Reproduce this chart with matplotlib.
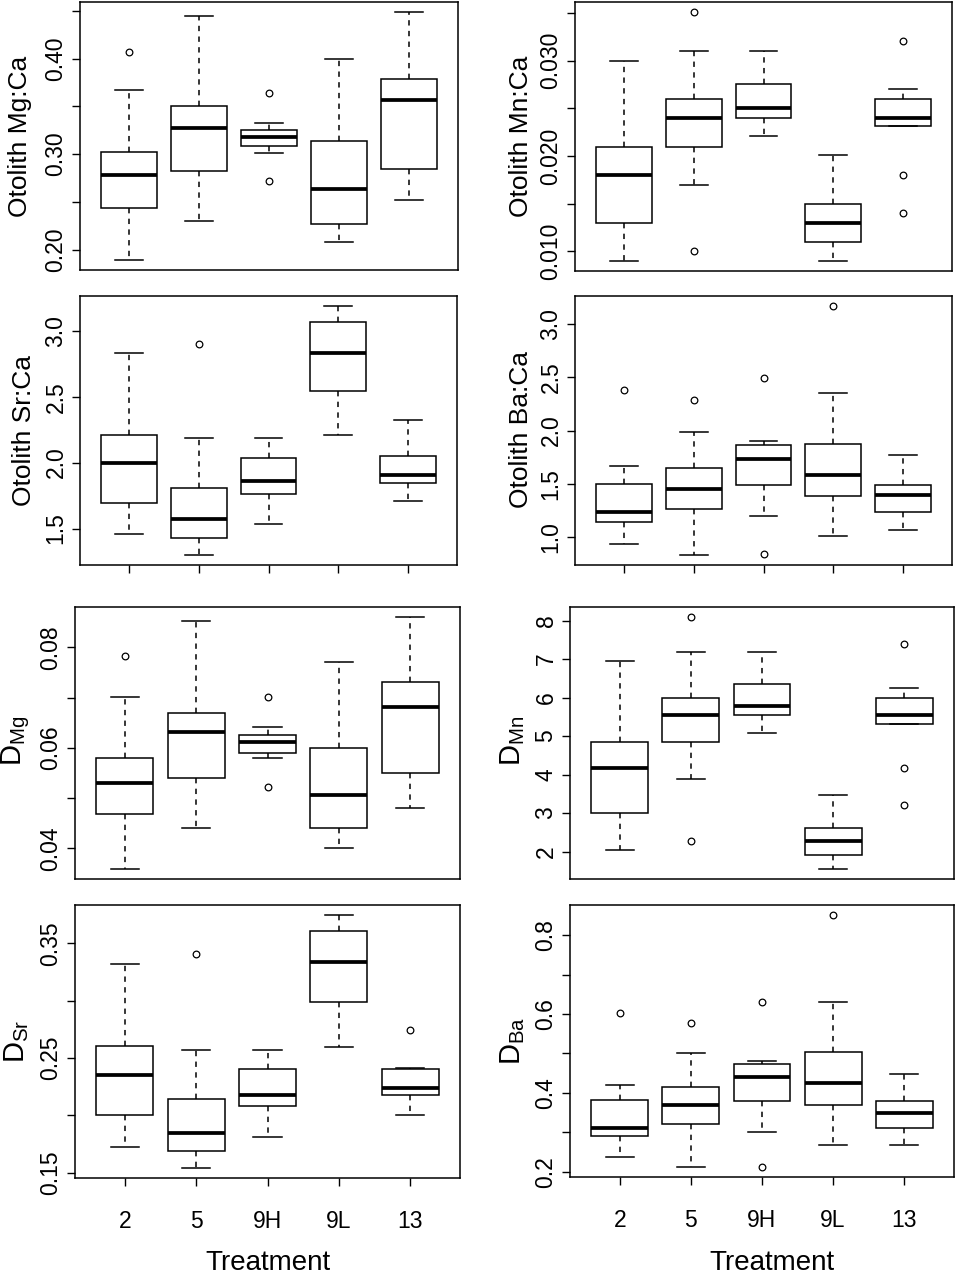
import matplotlib
matplotlib.use('Agg')
import matplotlib.pyplot as plt

plt.rcParams['font.family'] = ['Liberation Sans', 'DejaVu Sans']
plt.rcParams['mathtext.fontset'] = 'custom'
plt.rcParams['mathtext.rm'] = 'Liberation Sans'
plt.rcParams['mathtext.it'] = 'Liberation Sans:italic'
plt.rcParams['mathtext.bf'] = 'Liberation Sans:bold'

treatments = ['2', '5', '9H', '9L', '13']

# ---------------- data ----------------
# Otolith Mg:Ca
mgca_whislo = [0.189, 0.230, 0.301, 0.208, 0.252]
mgca_q1     = [0.244, 0.282, 0.309, 0.227, 0.284]
mgca_med    = [0.278, 0.327, 0.318, 0.263, 0.357]
mgca_q3     = [0.302, 0.350, 0.325, 0.314, 0.379]
mgca_whishi = [0.367, 0.445, 0.333, 0.400, 0.449]
mgca_fliers = [[0.407], [], [0.364, 0.272], [], []]

# Otolith Mn:Ca
mnca_whislo = [0.0090, 0.0170, 0.0221, 0.0090, 0.0231]
mnca_q1     = [0.0130, 0.0210, 0.0240, 0.0110, 0.0231]
mnca_med    = [0.0180, 0.0240, 0.0250, 0.0130, 0.0240]
mnca_q3     = [0.0210, 0.0260, 0.0275, 0.0150, 0.0260]
mnca_whishi = [0.0300, 0.0310, 0.0310, 0.0201, 0.0270]
mnca_fliers = [[], [0.0351, 0.0100], [], [], [0.0321, 0.0180, 0.0140]]

# Otolith Sr:Ca
srca_whislo = [1.462, 1.299, 1.533, 2.209, 1.706]
srca_q1     = [1.696, 1.426, 1.759, 2.542, 1.848]
srca_med    = [2.000, 1.571, 1.858, 2.830, 1.904]
srca_q3     = [2.209, 1.810, 2.034, 3.066, 2.047]
srca_whishi = [2.830, 2.189, 2.189, 3.188, 2.324]
srca_fliers = [[], [2.901], [], [], []]

# Otolith Ba:Ca
baca_whislo = [0.931, 0.830, 1.201, 1.009, 1.066]
baca_q1     = [1.144, 1.267, 1.490, 1.380, 1.235]
baca_med    = [1.232, 1.455, 1.735, 1.581, 1.392]
baca_q3     = [1.499, 1.644, 1.867, 1.876, 1.490]
baca_whishi = [1.666, 1.989, 1.898, 2.350, 1.766]
baca_fliers = [[2.381], [2.290], [2.491, 0.843], [3.170], []]

# D Mg
dmg_whislo = [0.0359, 0.0440, 0.0580, 0.0400, 0.0481]
dmg_q1     = [0.0469, 0.0540, 0.0590, 0.0440, 0.0550]
dmg_med    = [0.0530, 0.0632, 0.0612, 0.0506, 0.0681]
dmg_q3     = [0.0580, 0.0670, 0.0625, 0.0600, 0.0730]
dmg_whishi = [0.0701, 0.0852, 0.0641, 0.0771, 0.0860]
dmg_fliers = [[0.0782], [], [0.0701, 0.0522], [], []]

# D Mn
dmn_whislo = [2.04, 3.89, 5.07, 1.55, 5.31]
dmn_q1     = [2.99, 4.84, 5.54, 1.91, 5.31]
dmn_med    = [4.16, 5.54, 5.78, 2.27, 5.54]
dmn_q3     = [4.84, 6.00, 6.35, 2.60, 6.00]
dmn_whishi = [6.95, 7.18, 7.18, 3.48, 6.24]
dmn_fliers = [[], [8.09, 2.28], [], [], [7.38, 4.16, 3.22]]

# D Sr
dsr_whislo = [0.1724, 0.1541, 0.1811, 0.2598, 0.2001]
dsr_q1     = [0.2001, 0.1686, 0.2079, 0.2993, 0.2181]
dsr_med    = [0.2353, 0.1843, 0.2181, 0.3334, 0.2239]
dsr_q3     = [0.2606, 0.2140, 0.2405, 0.3605, 0.2405]
dsr_whishi = [0.3317, 0.2574, 0.2574, 0.3747, 0.2414]
dsr_fliers = [[], [0.3407], [], [], [0.2743]]

# D Ba
dba_whislo = [0.238, 0.213, 0.300, 0.268, 0.268]
dba_q1     = [0.290, 0.321, 0.379, 0.370, 0.312]
dba_med    = [0.312, 0.370, 0.441, 0.426, 0.349]
dba_q3     = [0.381, 0.414, 0.473, 0.504, 0.378]
dba_whishi = [0.421, 0.501, 0.480, 0.630, 0.447]
dba_fliers = [[0.602], [0.578], [0.630, 0.212], [0.851], []]

# ---------------- layout ----------------
W, H = 963, 1276
fig = plt.figure(figsize=(W / 100, H / 100), dpi=100)


def make_stats(lo, q1, med, q3, hi, fl):
    return [dict(whislo=lo[i], q1=q1[i], med=med[i], q3=q3[i], whishi=hi[i],
                 fliers=fl[i], label=treatments[i]) for i in range(len(treatments))]


def panel(box_px, stats, ticks, ticklabels, ylab, ylab_xy, xticks_mode):
    x0, y0, x1, y1 = box_px
    ax = fig.add_axes([x0 / W, 1 - y1 / H, (x1 - x0) / W, (y1 - y0) / H])
    ax.bxp(stats, positions=range(1, 6), widths=0.8, capwidths=0.4,
           patch_artist=True,
           boxprops=dict(facecolor='white', edgecolor='black', linewidth=1.1),
           medianprops=dict(color='black', linewidth=2.7, solid_capstyle='butt'),
           whiskerprops=dict(color='black', linewidth=1.1, linestyle=(0, (3.5, 3.5))),
           capprops=dict(color='black', linewidth=1.1),
           flierprops=dict(marker='o', markerfacecolor='none',
                           markeredgecolor='black', markersize=4.8,
                           markeredgewidth=0.9))
    vals = []
    for s in stats:
        vals += [s['whislo'], s['whishi']] + list(s['fliers'])
    lo, hi = min(vals), max(vals)
    r = hi - lo
    ax.set_ylim(lo - 0.04 * r, hi + 0.04 * r)
    ax.set_xlim(0.3, 5.7)
    ax.set_yticks(ticks, ticklabels)
    ax.tick_params(axis='y', labelrotation=90, labelsize=16.5, length=6,
                   width=1.0, pad=3)
    for t in ax.get_yticklabels():
        t.set_va('center')
    if xticks_mode == 'none':
        ax.tick_params(axis='x', bottom=False, labelbottom=False)
    elif xticks_mode == 'ticks':
        ax.set_xticks(range(1, 6), treatments)
        ax.tick_params(axis='x', length=6, width=1.0, labelbottom=False)
    else:
        ax.set_xticks(range(1, 6), treatments)
        ax.tick_params(axis='x', length=6, width=1.0, labelsize=16.5, pad=17)
    for sp in ax.spines.values():
        sp.set_linewidth(1.1)
        sp.set_color('black')
    fs = 19 if ylab.startswith('Otolith') else 21
    fig.text(ylab_xy[0] / W, 1 - ylab_xy[1] / H, ylab, rotation=90,
             ha='center', va='center', fontsize=fs)
    return ax


panel((80, 2, 458, 270),
      make_stats(mgca_whislo, mgca_q1, mgca_med, mgca_q3, mgca_whishi, mgca_fliers),
      [0.20, 0.25, 0.30, 0.35, 0.40, 0.45],
      ['0.20', '', '0.30', '', '0.40', ''],
      'Otolith Mg:Ca', (20, 136), 'none')

panel((575, 2, 952, 271),
      make_stats(mnca_whislo, mnca_q1, mnca_med, mnca_q3, mnca_whishi, mnca_fliers),
      [0.010, 0.015, 0.020, 0.025, 0.030, 0.035],
      ['0.010', '', '0.020', '', '0.030', ''],
      'Otolith Mn:Ca', (521, 136), 'none')

panel((80, 296, 457, 565),
      make_stats(srca_whislo, srca_q1, srca_med, srca_q3, srca_whishi, srca_fliers),
      [1.5, 2.0, 2.5, 3.0],
      ['1.5', '2.0', '2.5', '3.0'],
      'Otolith Sr:Ca', (24, 430), 'ticks')

panel((575, 296, 952, 565),
      make_stats(baca_whislo, baca_q1, baca_med, baca_q3, baca_whishi, baca_fliers),
      [1.0, 1.5, 2.0, 2.5, 3.0],
      ['1.0', '1.5', '2.0', '2.5', '3.0'],
      'Otolith Ba:Ca', (521, 430), 'ticks')

panel((75, 607, 460, 879),
      make_stats(dmg_whislo, dmg_q1, dmg_med, dmg_q3, dmg_whishi, dmg_fliers),
      [0.04, 0.05, 0.06, 0.07, 0.08],
      ['0.04', '', '0.06', '', '0.08'],
      r'D$_{\mathrm{Mg}}$', (16, 741), 'none')

panel((570, 607, 954, 879),
      make_stats(dmn_whislo, dmn_q1, dmn_med, dmn_q3, dmn_whishi, dmn_fliers),
      [2, 3, 4, 5, 6, 7, 8],
      ['2', '3', '4', '5', '6', '7', '8'],
      r'D$_{\mathrm{Mn}}$', (513, 741), 'none')

panel((75, 905, 460, 1178),
      make_stats(dsr_whislo, dsr_q1, dsr_med, dsr_q3, dsr_whishi, dsr_fliers),
      [0.15, 0.20, 0.25, 0.30, 0.35],
      ['0.15', '', '0.25', '', '0.35'],
      r'D$_{\mathrm{Sr}}$', (17, 1041), 'labels')

panel((570, 905, 954, 1177),
      make_stats(dba_whislo, dba_q1, dba_med, dba_q3, dba_whishi, dba_fliers),
      [0.2, 0.3, 0.4, 0.5, 0.6, 0.7, 0.8],
      ['0.2', '', '0.4', '', '0.6', '', '0.8'],
      r'D$_{\mathrm{Ba}}$', (513, 1041), 'labels')

fig.text(268 / W, 1 - 1263 / H, 'Treatment', ha='center', va='center', fontsize=20)
fig.text(772 / W, 1 - 1263 / H, 'Treatment', ha='center', va='center', fontsize=20)

fig.savefig('out.png', dpi=100)
